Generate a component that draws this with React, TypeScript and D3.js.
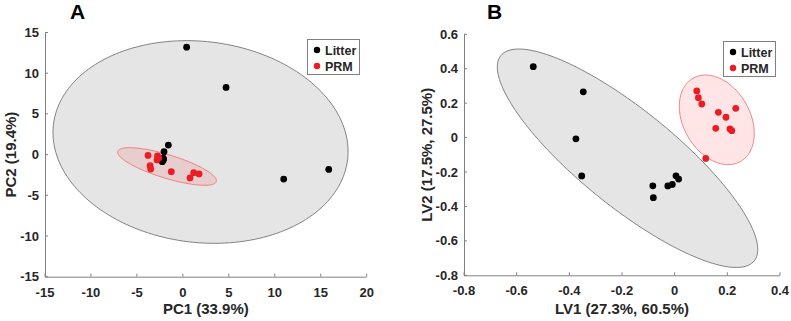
import React from "react";
import * as d3 from "d3";

// Panel A: PCA scores
const pcaLitterX = [0.41, 4.7, 10.97, 15.87, -1.58, -2.05, -2.13, -2.24, -2.19, -2.1];
const pcaLitterY = [13.2, 8.25, -3.01, -1.82, 1.17, 0.35, -0.45, -0.87, -0.72, -0.6];
const pcaPrmX = [-3.79, -2.76, -2.81, -2.62, -3.57, -3.5, -1.26, 0.78, 1.18, 1.76];
const pcaPrmY = [-0.1, -0.17, -0.66, -0.42, -1.36, -1.77, -2.1, -2.87, -2.22, -2.38];
const pcaXTicks = [-15, -10, -5, 0, 5, 10, 15, 20];
const pcaYTicks = [-15, -10, -5, 0, 5, 10, 15];
const pcaXTickLabels = ["-15", "-10", "-5", "0", "5", "10", "15", "20"];
const pcaYTickLabels = ["-15", "-10", "-5", "0", "5", "10", "15"];
// confidence ellipses: centre and two conjugate semi-axes (data units)
const pcaLitterEllipse = [1.92, 1.55, 16.0, -2.17, -1.305, -12.26];
const pcaPrmEllipse = [-1.72, -1.46, 5.36, -1.85, -0.374, -1.38];

// Panel B: PLS-DA latent variables
const plsLitterX = [-0.537, -0.347, -0.375, -0.353, -0.083, -0.081, -0.026, -0.009, 0.005, 0.015];
const plsLitterY = [0.412, 0.266, -0.007, -0.223, -0.28, -0.349, -0.281, -0.272, -0.222, -0.241];
const plsPrmX = [0.084, 0.09, 0.103, 0.166, 0.195, 0.232, 0.156, 0.21, 0.217, 0.118];
const plsPrmY = [0.271, 0.232, 0.195, 0.147, 0.118, 0.17, 0.054, 0.05, 0.04, -0.121];
const plsXTicks = [-0.8, -0.6, -0.4, -0.2, 0, 0.2, 0.4];
const plsYTicks = [-0.8, -0.6, -0.4, -0.2, 0, 0.2, 0.4, 0.6];
const plsXTickLabels = ["-0.8", "-0.6", "-0.4", "-0.2", "0", "0.2", "0.4"];
const plsYTickLabels = ["-0.8", "-0.6", "-0.4", "-0.2", "0", "0.2", "0.4", "0.6"];
const plsLitterEllipse = [-0.179, -0.12, 0.481, -0.5962, -0.1149, -0.217];
const plsPrmEllipse = [0.16, 0.103, 0.0903, -0.2416, -0.11, -0.0965];

const groupNames = ["Litter", "PRM"];

const FONT = "'Liberation Sans', Arial, sans-serif";
const TEXT = "#262626";
const AXIS = "#808080";
const RED = "#ec1c24";

type PanelProps = {
  letter: string;
  letterX: number;
  xRange: [number, number];
  yRange: [number, number];
  xDomain: [number, number];
  yDomain: [number, number];
  xTicks: number[];
  yTicks: number[];
  xTickLabels: string[];
  yTickLabels: string[];
  xTitle: string;
  yTitle: string;
  yTitleX: number;
  litter: [number[], number[]];
  prm: [number[], number[]];
  litterEllipse: number[];
  prmEllipse: number[];
  legendX: number;
  legendY: number;
};

function ellipsePath(e: number[], x: d3.ScaleLinear<number, number>, y: d3.ScaleLinear<number, number>) {
  const [cx, cy, ux, uy, vx, vy] = e;
  const ts = d3.range(0, 181).map((i) => (i / 180) * Math.PI * 2);
  const line = d3
    .line<number>()
    .x((t) => x(cx + ux * Math.cos(t) + vx * Math.sin(t)))
    .y((t) => y(cy + uy * Math.cos(t) + vy * Math.sin(t)))
    .curve(d3.curveLinearClosed);
  return line(ts) || "";
}

function Panel(p: PanelProps) {
  const x = d3.scaleLinear().domain(p.xDomain).range(p.xRange);
  const y = d3.scaleLinear().domain(p.yDomain).range(p.yRange);
  const [x0, x1] = p.xRange;
  const [yb, yt] = p.yRange;
  const tick = 3;
  return (
    <g>
      <text x={p.letterX} y={18.5} fontFamily={FONT} fontWeight="bold" fontSize={21} fill="#000" textAnchor="middle">
        {p.letter}
      </text>
      <path d={ellipsePath(p.litterEllipse, x, y)} fill="#e5e5e5" stroke="#666" strokeWidth={0.8} />
      <path d={ellipsePath(p.prmEllipse, x, y)} fill="rgba(255,0,0,0.1)" stroke="#f07373" strokeWidth={0.9} />
      {p.litter[0].map((v, i) => (
        <circle key={"l" + i} cx={x(v)} cy={y(p.litter[1][i])} r={3.4} fill="#000" />
      ))}
      {p.prm[0].map((v, i) => (
        <circle key={"p" + i} cx={x(v)} cy={y(p.prm[1][i])} r={3.4} fill={RED} />
      ))}
      {/* axes */}
      <line x1={x0} x2={x1} y1={yb + 0.5} y2={yb + 0.5} stroke={AXIS} strokeWidth={1} />
      <line x1={x0 + 0.5} x2={x0 + 0.5} y1={yb} y2={yt} stroke={AXIS} strokeWidth={1} />
      {p.xTicks.map((t, i) => (
        <g key={"xt" + i}>
          <line x1={x(t)} x2={x(t)} y1={yb} y2={yb - tick} stroke={AXIS} strokeWidth={1} />
          <text x={x(t)} y={yb + 20} fontFamily={FONT} fontWeight="bold" fontSize={13} fill={TEXT} textAnchor="middle">
            {p.xTickLabels[i]}
          </text>
        </g>
      ))}
      {p.yTicks.map((t, i) => (
        <g key={"yt" + i}>
          <line x1={x0} x2={x0 + tick} y1={y(t)} y2={y(t)} stroke={AXIS} strokeWidth={1} />
          <text x={x0 - 6} y={y(t) + 4.5} fontFamily={FONT} fontWeight="bold" fontSize={13} fill={TEXT} textAnchor="end">
            {p.yTickLabels[i]}
          </text>
        </g>
      ))}
      <text x={(x0 + x1) / 2} y={314} fontFamily={FONT} fontWeight="bold" fontSize={15} fill={TEXT} textAnchor="middle">
        {p.xTitle}
      </text>
      <text
        transform={`translate(${p.yTitleX},${(yb + yt) / 2}) rotate(-90)`}
        fontFamily={FONT}
        fontWeight="bold"
        fontSize={15}
        fill={TEXT}
        textAnchor="middle"
      >
        {p.yTitle}
      </text>
      {/* legend */}
      <rect x={p.legendX + 0.5} y={p.legendY + 0.5} width={52} height={35} fill="#fff" stroke="#808080" strokeWidth={1} />
      {groupNames.map((g, i) => (
        <g key={g}>
          <circle cx={p.legendX + 10} cy={p.legendY + 11 + i * 16} r={3.2} fill={i === 0 ? "#000" : RED} />
          <text
            x={p.legendX + 18}
            y={p.legendY + 15.5 + i * 16}
            fontFamily={FONT}
            fontWeight="bold"
            fontSize={12.5}
            fill={TEXT}
          >
            {g}
          </text>
        </g>
      ))}
    </g>
  );
}

export default function App() {
  return (
    <svg
      width={791}
      height={321}
      style={{ position: "absolute", left: 0, top: 0, display: "block", background: "#fff" }}
    >
      <rect width={791} height={321} fill="#fff" />
      <Panel
        letter="A"
        letterX={77.5}
        xRange={[45, 366.7]}
        yRange={[276.7, 32.5]}
        xDomain={[-15, 20]}
        yDomain={[-15, 15]}
        xTicks={pcaXTicks}
        yTicks={pcaYTicks}
        xTickLabels={pcaXTickLabels}
        yTickLabels={pcaYTickLabels}
        xTitle="PC1 (33.9%)"
        yTitle="PC2 (19.4%)"
        yTitleX={16}
        litter={[pcaLitterX, pcaLitterY]}
        prm={[pcaPrmX, pcaPrmY]}
        litterEllipse={pcaLitterEllipse}
        prmEllipse={pcaPrmEllipse}
        legendX={307}
        legendY={39}
      />
      <Panel
        letter="B"
        letterX={494.5}
        xRange={[464, 780]}
        yRange={[275.3, 34.3]}
        xDomain={[-0.8, 0.4]}
        yDomain={[-0.8, 0.6]}
        xTicks={plsXTicks}
        yTicks={plsYTicks}
        xTickLabels={plsXTickLabels}
        yTickLabels={plsYTickLabels}
        xTitle="LV1 (27.3%, 60.5%)"
        yTitle="LV2 (17.5%, 27.5%)"
        yTitleX={431.5}
        litter={[plsLitterX, plsLitterY]}
        prm={[plsPrmX, plsPrmY]}
        litterEllipse={plsLitterEllipse}
        prmEllipse={plsPrmEllipse}
        legendX={723}
        legendY={41}
      />
    </svg>
  );
}
